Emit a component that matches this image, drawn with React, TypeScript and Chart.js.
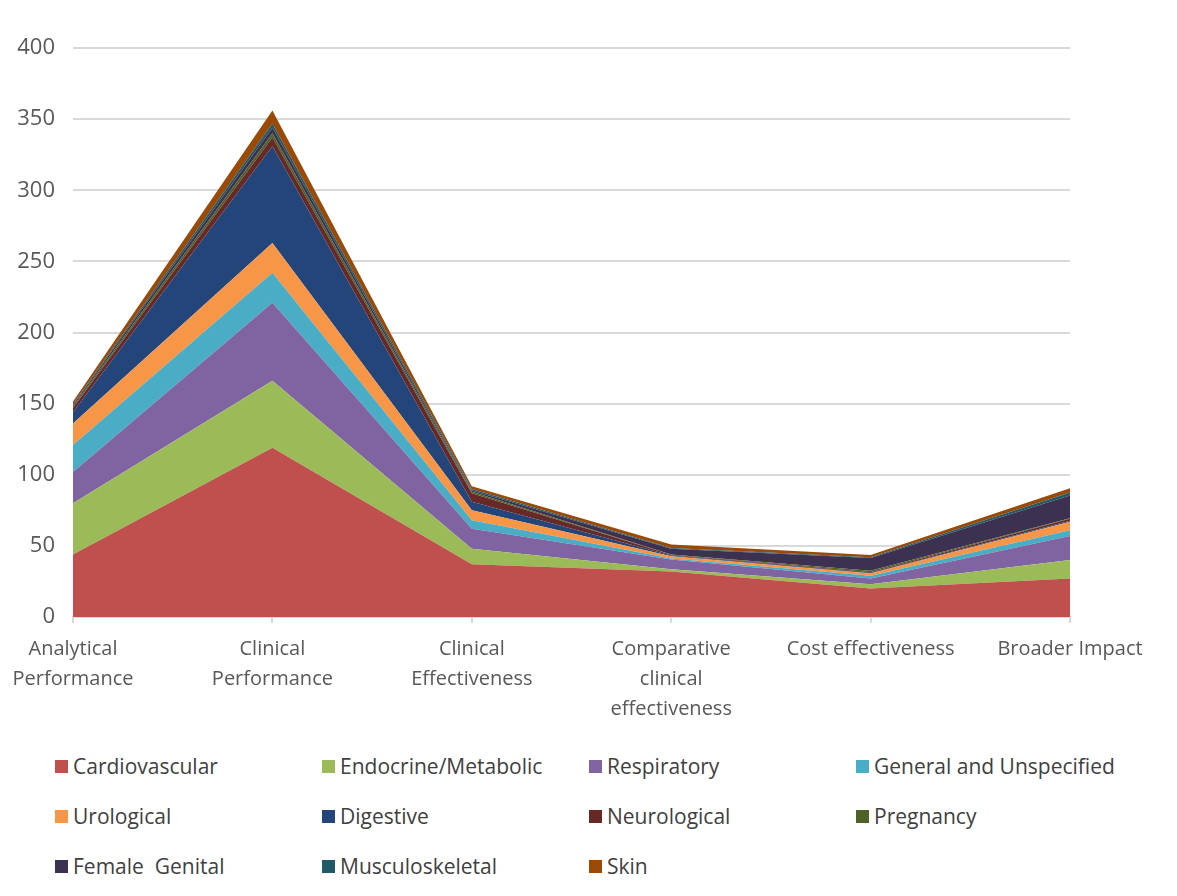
import React, { useEffect, useRef } from "react";
import { Chart, registerables } from "chart.js";

Chart.register(...registerables);

const categories: (string | string[])[] = [
  ["Analytical", "Performance"],
  ["Clinical", "Performance"],
  ["Clinical", "Effectiveness"],
  ["Comparative", "clinical", "effectiveness"],
  "Cost effectiveness",
  "Broader Impact",
];

const cardiovascular = [44, 119, 37, 32, 20, 27];
const endocrine = [36, 47, 11, 1.5, 3, 13];
const respiratory = [22, 55, 14, 7, 4, 17];
const generalUnspecified = [19, 21, 6, 0.7, 2, 4];
const urological = [15, 21, 7, 1.5, 1.5, 6];
const digestive = [8, 68, 6, 0.5, 0.5, 0.7];
const neurological = [3, 6, 6, 0.5, 0.5, 1.3];
const pregnancy = [1, 3, 1, 0.3, 1, 0.5];
const femaleGenital = [1, 4, 1, 4, 9, 16];
const musculoskeletal = [0.5, 3, 1, 0.5, 0.5, 2];
const skin = [2, 9, 2, 2.5, 1.5, 3];

const yTicks = [0, 50, 100, 150, 200, 250, 300, 350, 400];

const seriesNames = [
  "Cardiovascular",
  "Endocrine/Metabolic",
  "Respiratory",
  "General and Unspecified",
  "Urological",
  "Digestive",
  "Neurological",
  "Pregnancy",
  "Female  Genital",
  "Musculoskeletal",
  "Skin",
];
const seriesData = [
  cardiovascular,
  endocrine,
  respiratory,
  generalUnspecified,
  urological,
  digestive,
  neurological,
  pregnancy,
  femaleGenital,
  musculoskeletal,
  skin,
];
const seriesColors = [
  "#C0504D",
  "#9BBB59",
  "#8064A2",
  "#4BACC6",
  "#F79646",
  "#24457A",
  "#672826",
  "#4E6228",
  "#3C3150",
  "#1F5A66",
  "#9A4A06",
];

const FONT = "'Open Sans', 'DejaVu Sans', sans-serif";

export default function App() {
  const canvasRef = useRef<HTMLCanvasElement | null>(null);

  useEffect(() => {
    if (!canvasRef.current) return;
    const chart = new Chart(canvasRef.current, {
      type: "line",
      data: {
        labels: categories,
        datasets: seriesNames.map((name, i) => ({
          label: name,
          data: seriesData[i],
          backgroundColor: seriesColors[i],
          borderColor: seriesColors[i],
          borderWidth: 0,
          pointRadius: 0,
          pointHoverRadius: 0,
          tension: 0,
          fill: i === 0 ? "origin" : "-1",
        })),
      },
      options: {
        animation: false,
        responsive: true,
        maintainAspectRatio: false,
        layout: { padding: { top: 40, right: 99, left: 0, bottom: 0 } },
        plugins: {
          legend: { display: false },
          tooltip: { enabled: false },
        },
        scales: {
          x: {
            offset: false,
            grid: {
              drawOnChartArea: false,
              drawTicks: true,
              tickLength: 6,
              color: "#d9d9d9",
              lineWidth: 2,
            },
            border: { display: true, color: "#d9d9d9", width: 2 },
            ticks: {
              color: "#595959",
              font: { family: FONT, size: 20, lineHeight: 1.5 },
              padding: 11,
              maxRotation: 0,
              autoSkip: false,
            },
            afterFit: (scale: any) => {
              scale.height = 121;
              scale.paddingLeft = 0;
              scale.paddingRight = 0;
            },
          },
          y: {
            stacked: true,
            min: 0,
            max: 400,
            afterBuildTicks: (scale: any) => {
              scale.ticks = yTicks.map((v) => ({ value: v }));
            },
            grid: {
              color: "#d9d9d9",
              lineWidth: 2,
              drawTicks: false,
            },
            border: { display: false },
            ticks: {
              color: "#595959",
              font: { family: FONT, size: 22 },
              padding: 18,
            },
            afterFit: (scale: any) => {
              scale.width = 65;
              scale.paddingTop = 0;
              scale.paddingBottom = 0;
            },
          },
        },
      },
    });
    return () => chart.destroy();
  }, []);

  return (
    <div style={{ position: "relative", width: 1161, height: 880 }}>
      <div style={{ position: "absolute", left: 0, top: 0, width: 1161, height: 730 }}>
        <canvas ref={canvasRef} />
      </div>
      {seriesNames.map((name, i) => {
        const col = i % 4;
        const row = Math.floor(i / 4);
        return (
          <div
            key={name}
            style={{
              position: "absolute",
              left: 47 + col * 267,
              top: 746 + row * 50,
              height: 24,
              display: "flex",
              alignItems: "center",
              fontFamily: FONT,
              fontSize: 21,
              color: "#404040",
              whiteSpace: "pre",
            }}
          >
            <span
              style={{
                display: "inline-block",
                width: 13,
                height: 13,
                background: seriesColors[i],
                marginRight: 5,
              }}
            />
            {name}
          </div>
        );
      })}
    </div>
  );
}
